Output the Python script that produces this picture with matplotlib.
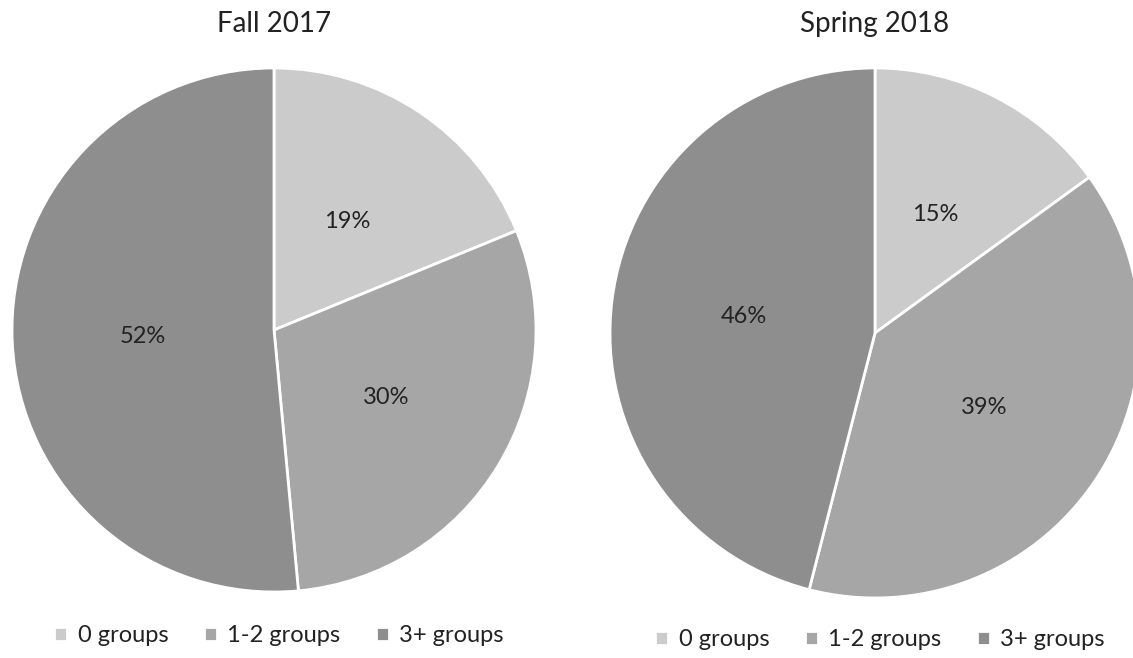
import matplotlib.pyplot as plt

plt.rcParams['font.family'] = ['Lato', 'DejaVu Sans']

categories = ['0 groups', '1-2 groups', '3+ groups']
fall_2017 = [19, 30, 52]
spring_2018 = [15, 39, 46]
colors = ['#cbcbcb', '#a6a6a6', '#8e8e8e']

fig = plt.figure(figsize=(11.33, 6.58), dpi=100)
fig.patch.set_facecolor('white')

panels = [
    ('Fall 2017', fall_2017, [0.0106, 0.1003, 0.4625, 0.7964], 279, 636),
    ('Spring 2018', spring_2018, [0.5384, 0.0912, 0.4678, 0.8055], 880, 640),
]

for title, values, rect, leg_x, leg_y in panels:
    ax = fig.add_axes(rect)
    wedges, texts = ax.pie(values, colors=colors, startangle=90, counterclock=False,
                           labels=[f'{v}%' for v in values], labeldistance=0.5,
                           wedgeprops=dict(edgecolor='white', linewidth=2),
                           textprops=dict(fontsize=17, color='#222222', ha='center', va='center'))
    ax.set_xlim(-1, 1)
    ax.set_ylim(-1, 1)
    ax.set_aspect('equal')
    cx = rect[0] + rect[2] / 2
    fig.text(cx, 1 - 24 / 658, title, ha='center', va='center', fontsize=20, color='#222222')
    fig.legend(wedges, categories, loc='center', bbox_to_anchor=(leg_x / 1133, 1 - leg_y / 658),
               ncol=3, frameon=False, fontsize=17, handlelength=0.55, handleheight=0.55,
               handletextpad=0.45, columnspacing=1.5, labelcolor='#222222')

fig.savefig('out.png', dpi=100, facecolor='white')
